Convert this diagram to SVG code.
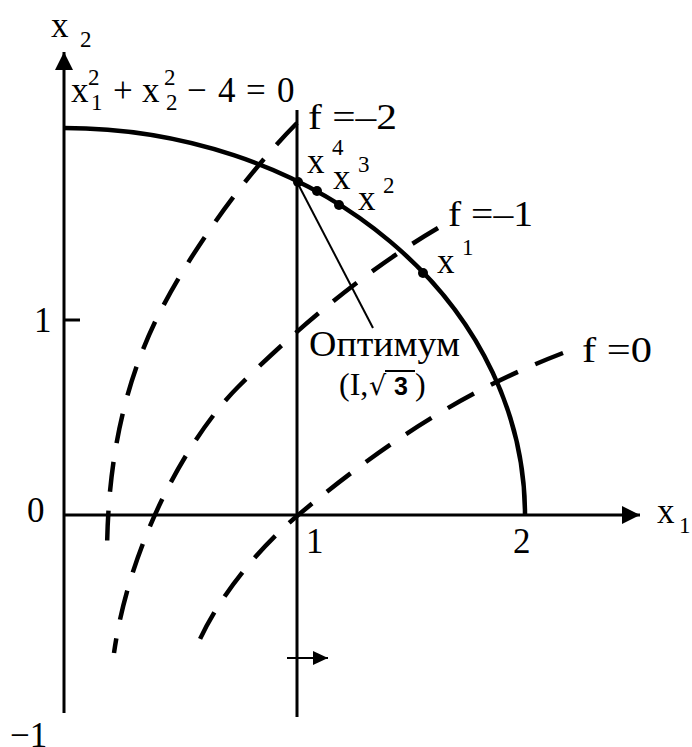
<svg xmlns="http://www.w3.org/2000/svg" width="692" height="747" viewBox="0 0 692 747">
<style>
  text { font-family: "Liberation Serif", "Times New Roman", serif; fill: #000; }
  .big { font-size: 35px; }
  .sm { font-size: 23px; }
  .axis { stroke: #000; stroke-width: 3; fill: none; }
  .thin { stroke: #000; stroke-width: 2; fill: none; }
  .arc { stroke: #000; stroke-width: 4.5; fill: none; }
  .dash { stroke: #000; stroke-width: 4.5; fill: none; stroke-dasharray: 30 19; }
  .dot { fill: #000; }
</style>
<defs>
  <marker id="arr" markerWidth="20" markerHeight="18" refX="18" refY="9" orient="auto" markerUnits="userSpaceOnUse">
    <path d="M0,0 L18,9 L0,18 Z" fill="#000"/>
  </marker>
  <marker id="arrs" markerWidth="16" markerHeight="14" refX="15" refY="7" orient="auto" markerUnits="userSpaceOnUse">
    <path d="M0,0 L15,7 L0,14 Z" fill="#000"/>
  </marker>
</defs>

<g id="axes">
  <line class="axis" x1="64" y1="713" x2="64" y2="52" marker-end="url(#arr)"/>
  <line class="axis" x1="64" y1="515" x2="640" y2="515" marker-end="url(#arr)"/>
  <line class="axis" x1="64" y1="320" x2="80" y2="320"/>
  <line class="axis" x1="297" y1="110" x2="297" y2="717"/>
</g>

<g id="constraint">
  <path class="arc" d="M64,128 A461,387 0 0 1 525,515"/>
</g>

<g id="connectors">
  <path class="dash" d="M297,123 C250,170 190,250 155,322 C125,385 107,460 107,558"/>
  <path class="dash" d="M438,228 C370,268 300,325 238,387 C190,435 130,540 114,653"/>
  <path class="dash" d="M563,353 C480,385 400,430 297,516 C257,550 215,600 193,655"/>
  <line class="thin" x1="297" y1="182" x2="373" y2="328"/>
  <line class="thin" x1="287" y1="658" x2="328" y2="658" marker-end="url(#arrs)"/>
</g>

<g id="points">
  <circle class="dot" cx="298" cy="182" r="5"/>
  <circle class="dot" cx="317" cy="191" r="5"/>
  <circle class="dot" cx="339" cy="205" r="5"/>
  <circle class="dot" cx="423" cy="273" r="5"/>
</g>

<g id="labels">
  <text class="big" x="51" y="37">x</text>
  <text class="sm" x="80" y="47">2</text>

  <text class="big" x="71" y="102">x</text>
  <text class="sm" x="88" y="85">2</text>
  <text class="sm" x="91" y="110">1</text>
  <text class="big" x="113" y="102">+</text>
  <text class="big" x="142" y="102">x</text>
  <text class="sm" x="164" y="85">2</text>
  <text class="sm" x="166" y="110">2</text>
  <text class="big" x="187" y="102">−</text>
  <text class="big" x="218" y="102">4</text>
  <text class="big" x="246" y="102">=</text>
  <text class="big" x="277" y="102">0</text>

  <text class="big" x="308" y="129" textLength="89" lengthAdjust="spacingAndGlyphs">f =–2</text>
  <text class="big" x="448" y="226" textLength="85" lengthAdjust="spacingAndGlyphs">f =–1</text>
  <text class="big" x="582" y="362" textLength="70" lengthAdjust="spacingAndGlyphs">f =0</text>

  <text class="big" x="307" y="173">x</text>
  <text class="sm" x="332" y="155">4</text>
  <text class="big" x="333" y="189">x</text>
  <text class="sm" x="358" y="172">3</text>
  <text class="big" x="358" y="210">x</text>
  <text class="sm" x="383" y="193">2</text>
  <text class="big" x="437" y="273">x</text>
  <text class="sm" x="462" y="255">1</text>

  <text class="big" x="309" y="356" textLength="151" lengthAdjust="spacingAndGlyphs">Оптимум</text>
  <text x="339" y="395" style="font-size:32px">(I,</text>
  <text x="369" y="395" style="font-family:'DejaVu Sans',sans-serif;font-size:27px">√</text>
  <line x1="385" y1="371" x2="415" y2="371" stroke="#000" stroke-width="2"/>
  <text x="394" y="395" style="font-family:'Liberation Sans',Arial,sans-serif;font-size:25px;font-weight:bold">3</text>
  <text x="415" y="395" style="font-size:32px">)</text>

  <text class="big" x="657" y="523">x</text>
  <text class="sm" x="679" y="533">1</text>
  <text class="big" x="306" y="553">1</text>
  <text class="big" x="513" y="553">2</text>
  <text class="big" x="27" y="522">0</text>
  <text class="big" x="34" y="332">1</text>
  <text class="big" x="10" y="747">−1</text>
</g>
</svg>
